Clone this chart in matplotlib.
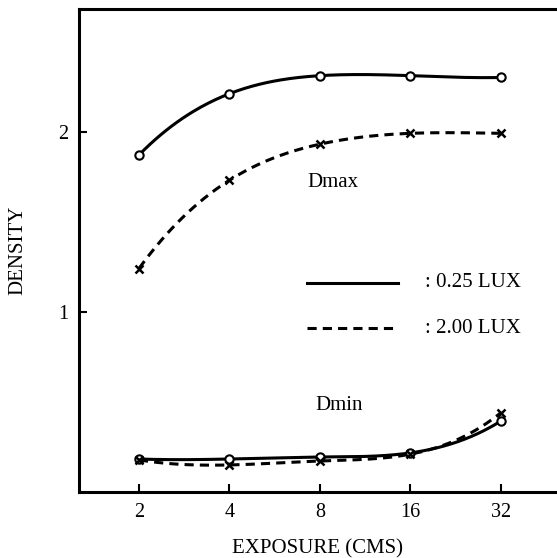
import numpy as np
import matplotlib
matplotlib.use('Agg')
import matplotlib.pyplot as plt

plt.rcParams['font.family'] = ['Liberation Serif', 'DejaVu Serif']

# Data
exposure = [2, 4, 8, 16, 32]
dmax_025 = [1.87, 2.21, 2.31, 2.31, 2.30]
dmax_200 = [1.24, 1.73, 1.93, 1.99, 1.99]
dmin_025 = [0.183, 0.183, 0.194, 0.217, 0.394]
dmin_200 = [0.178, 0.150, 0.172, 0.210, 0.440]
xtick_labels = ['2', '4', '8', '16', '32']


def smooth(xs, ys, n=200):
    # not-a-knot cubic spline through the points (in log2 x), only for drawing the line
    x = np.log2(xs)
    y = np.asarray(ys, float)
    k = len(x)
    h = np.diff(x)
    A = np.zeros((k, k))
    b = np.zeros(k)
    A[0, :3] = [h[1], -(h[0] + h[1]), h[0]]
    A[-1, -3:] = [h[-1], -(h[-2] + h[-1]), h[-2]]
    for i in range(1, k - 1):
        A[i, i - 1] = h[i - 1]
        A[i, i] = 2 * (h[i - 1] + h[i])
        A[i, i + 1] = h[i]
        b[i] = 6 * ((y[i + 1] - y[i]) / h[i] - (y[i] - y[i - 1]) / h[i - 1])
    m = np.linalg.solve(A, b)
    xx = np.linspace(x[0], x[-1], n)
    j = np.clip(np.searchsorted(x, xx) - 1, 0, k - 2)
    t0 = xx - x[j]
    t1 = x[j + 1] - xx
    hj = h[j]
    yy = (m[j] * t1 ** 3 / (6 * hj) + m[j + 1] * t0 ** 3 / (6 * hj)
          + (y[j] / hj - m[j] * hj / 6) * t1 + (y[j + 1] / hj - m[j + 1] * hj / 6) * t0)
    return 2 ** xx, yy


fig = plt.figure(figsize=(5.57, 5.58), dpi=100)
ax = fig.add_axes([0.1418, 0.1183, 1 - 0.1418, 0.8656])

lw = 2.2
for ys in (dmax_025, dmin_025):
    sx, sy = smooth(exposure, ys)
    ax.plot(sx, sy, color='black', lw=lw, solid_capstyle='butt')
    ax.plot(exposure, ys, 'o', color='black', mfc='white', ms=6, mew=1.5)
for ys in (dmax_200, dmin_200):
    sx, sy = smooth(exposure, ys)
    ax.plot(sx, sy, color='black', lw=lw, dashes=(3, 2))
    ax.plot(exposure, ys, 'x', color='black', ms=6, mew=1.8)

ax.set_xscale('log', base=2)
ax.set_xlim(2 ** 0.337, 2 ** 5.619)
ax.set_ylim(0, 2.68)
ax.set_xticks(exposure)
ax.set_xticklabels(xtick_labels)
ax.xaxis.set_minor_locator(plt.NullLocator())
ax.set_yticks([1, 2])
ax.set_yticklabels(['1', '2'])
ax.tick_params(direction='in', length=6, width=1.5, labelsize=14.5, pad=8)

for s in ('left', 'top', 'bottom'):
    ax.spines[s].set_linewidth(2.2)
ax.spines['right'].set_visible(False)

ax.set_xlabel('EXPOSURE (CMS)', fontsize=15, labelpad=12)
ax.set_ylabel('DENSITY', fontsize=15, labelpad=22)

# legend drawn by hand
ax.plot([0.477, 0.667], [0.433, 0.433], color='black', lw=lw, transform=ax.transAxes)
ax.plot([0.477, 0.667], [0.3395, 0.3395], color='black', lw=lw, dashes=(3, 2),
        transform=ax.transAxes)
ax.text(0.724, 0.433, ': 0.25 LUX', transform=ax.transAxes, fontsize=15, va='center')
ax.text(0.724, 0.3395, ': 2.00 LUX', transform=ax.transAxes, fontsize=15, va='center')

ax.text(0.531, 0.640, 'Dmax', transform=ax.transAxes, fontsize=15, ha='center', va='center')
ax.text(0.544, 0.180, 'Dmin', transform=ax.transAxes, fontsize=15, ha='center', va='center')

fig.savefig('out.png', dpi=100)
